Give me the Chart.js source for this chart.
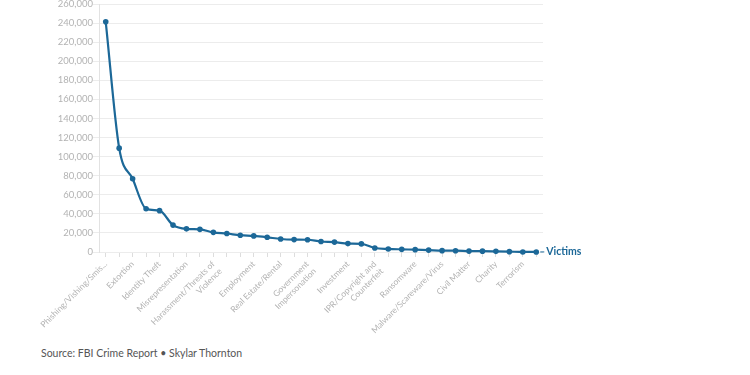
<!DOCTYPE html>
<html>
<head>
<meta charset="utf-8">
<script src="https://cdn.jsdelivr.net/npm/chart.js@4/dist/chart.umd.min.js"></script>
<style>
  html, body { margin: 0; padding: 0; background: #fff; }
  #wrap { position: relative; width: 750px; height: 375px; overflow: hidden; }
  #chart-box { position: absolute; left: 0; top: 0; width: 750px; height: 345px; }
  #source { position: absolute; left: 41px; top: 347px; font: 10.5px Lato, sans-serif; color: #555; white-space: nowrap; }
</style>
</head>
<body>
<div id="wrap">
  <div id="chart-box"><canvas id="chart"></canvas></div>
  <div id="source">Source: FBI Crime Report • Skylar Thornton</div>
</div>
<script>
const seriesName = 'Victims';

const categories = [
    'Phishing/Vishing/Smishing/Pharming', 'Non-Payment/Non-Delivery', 'Extortion', 'Personal Data Breach',
    'Identity Theft', 'Spoofing', 'Misrepresentation', 'Confidence Fraud/Romance',
    'Harassment/Threats of Violence', 'BEC/EAC', 'Credit Card Fraud', 'Employment',
    'Tech Support', 'Real Estate/Rental', 'Advanced Fee', 'Government Impersonation',
    'Overpayment', 'Other', 'Investment', 'Lottery/Sweepstakes/Inheritance',
    'IPR/Copyright and Counterfeit', 'Crimes Against Children', 'Corporate Data Breach', 'Ransomware',
    'Denial of Service/TDoS', 'Malware/Scareware/Virus', 'Health Care Related', 'Civil Matter',
    'Re-shipping', 'Charity', 'Gambling', 'Terrorism', 'Hacktivist'
];

const victims = [
    241342, 108869, 76741, 45330,
    43330, 28218, 24276, 23751,
    20604, 19369, 17614, 16879,
    15421, 13638, 13020, 12827,
    10988, 10372, 8788, 8501,
    4213, 3202, 2794, 2474,
    2018, 1423, 1383, 968,
    883, 659, 391, 65, 52
];

// only some categories get a visible label on the x axis
const tickLabels = [
    'Phishing/Vishing/Smis...', '', 'Extortion', '',
    'Identity Theft', '', 'Misrepresentation', '',
    ['Harassment/Threats of', 'Violence'], '', '', 'Employment',
    '', 'Real Estate/Rental', '', ['Government', 'Impersonation'],
    '', '', 'Investment', '',
    ['IPR/Copyright and', 'Counterfeit'], '', '', 'Ransomware',
    '', 'Malware/Scareware/Virus', '', 'Civil Matter',
    '', 'Charity', '', 'Terrorism', ''
];

const yMin = 0;
const yMax = 260000;
const yStep = 20000;

const lineColor = '#1c6898';

const endLabel = {
    id: 'endLabel',
    afterDatasetsDraw(chart) {
        const meta = chart.getDatasetMeta(0);
        const pt = meta.data[meta.data.length - 1];
        const ctx = chart.ctx;
        ctx.save();
        ctx.strokeStyle = lineColor;
        ctx.lineWidth = 1;
        ctx.beginPath();
        ctx.moveTo(pt.x + 4, pt.y);
        ctx.lineTo(pt.x + 8, pt.y);
        ctx.stroke();
        ctx.fillStyle = lineColor;
        ctx.font = 'bold 10.5px Lato';
        ctx.textBaseline = 'middle';
        ctx.fillText(seriesName, pt.x + 10, pt.y);
        ctx.restore();
    }
};

Chart.defaults.font.family = 'Lato, sans-serif';

new Chart(document.getElementById('chart'), {
    type: 'line',
    data: {
        labels: categories,
        datasets: [{
            label: seriesName,
            data: victims,
            borderColor: lineColor,
            backgroundColor: lineColor,
            borderWidth: 2.2,
            pointRadius: 2.8,
            pointBackgroundColor: lineColor,
            pointBorderWidth: 0,
            cubicInterpolationMode: 'monotone',
            fill: false,
            clip: false
        }]
    },
    options: {
        responsive: true,
        maintainAspectRatio: false,
        animation: false,
        layout: { padding: { left: 0, right: 207, top: 0, bottom: 0 } },
        plugins: {
            legend: { display: false },
            tooltip: { enabled: false }
        },
        scales: {
            x: {
                offset: true,
                grid: {
                    offset: false,
                    drawOnChartArea: false,
                    drawTicks: true,
                    tickLength: 5,
                    color: '#dddddd'
                },
                border: { display: false },
                ticks: {
                    autoSkip: false,
                    minRotation: 45,
                    maxRotation: 45,
                    padding: 2,
                    color: '#b3b3b3',
                    font: { size: 8.5 },
                    callback: (value, index) => tickLabels[index]
                },
                afterFit(scale) {
                    scale.height = 93;
                    scale.paddingLeft = 0;
                    scale.paddingRight = 0;
                }
            },
            y: {
                min: yMin,
                max: yMax,
                grid: {
                    color: '#ececec',
                    tickLength: 6
                },
                border: { display: true, color: '#e2e2e2' },
                ticks: {
                    stepSize: yStep,
                    padding: 0,
                    color: '#b3b3b3',
                    font: { size: 9.5 },
                    callback: v => v.toLocaleString('en-US')
                },
                afterFit(scale) {
                    scale.width = 99;
                    scale.paddingTop = 3;
                    scale.paddingBottom = 0;
                }
            }
        }
    },
    plugins: [endLabel]
});
</script>
</body>
</html>
